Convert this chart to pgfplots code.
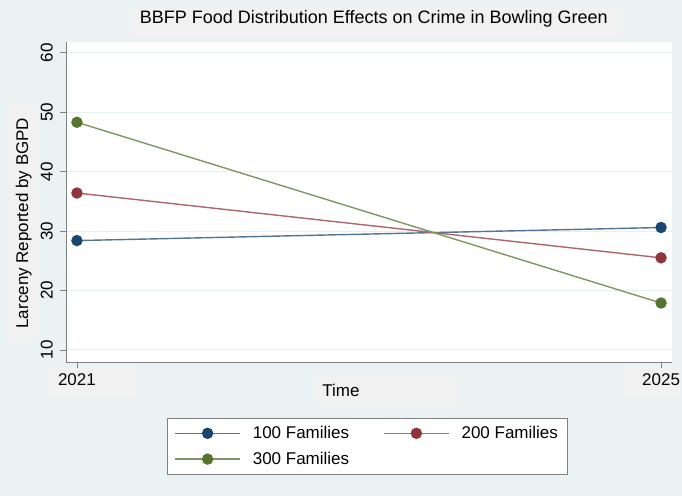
\documentclass[border=0pt]{standalone}
\usepackage{pgfplots}
\pgfplotsset{compat=1.18}
\usepackage{fontspec}
\setmainfont{Liberation Sans}

\definecolor{bgc}{HTML}{EAF2F3}
\definecolor{boxc}{HTML}{F1F1F1}
\definecolor{gridc}{HTML}{E6EFF1}
\definecolor{sNavy}{HTML}{1A476F}
\definecolor{sMaroon}{HTML}{90353B}
\definecolor{sGreen}{HTML}{55752F}

\newcommand{\lblfont}{\fontsize{17bp}{20bp}\selectfont}

\begin{document}
\begin{tikzpicture}
% page in pixel units of the reference (origin = axis south west)
\begin{scope}[x=1bp,y=-1bp,xshift=-66bp,yshift=362bp]
  \path[use as bounding box] (0,0) rectangle (682,496);
  \fill[bgc] (0,0) rectangle (682,496);
  \fill[boxc] (132,7) rectangle (622,37);   % title
  \fill[boxc] (7,102) rectangle (37,342);   % y label
  \fill[boxc] (47,367) rectangle (138,397); % 2021
  \fill[boxc] (623,367) rectangle (680,397);% 2025
  \fill[boxc] (315,376) rectangle (459,406);% Time
\end{scope}

\begin{axis}[
    at={(0,0)}, anchor=south west,
    scale only axis, width=606bp, height=320bp,
    xmin=2020.925, xmax=2025.075,
    ymin=7.98, ymax=61.8,
    xtick={2021,2025}, ytick={10,20,...,60},
    axis lines*=left,
    axis line style={draw=gray, line width=0.8bp},
    tick align=outside, major tick length=6bp,
    tick style={draw=gray, line width=0.8bp},
    ymajorgrids, grid style={gridc, line width=1bp},
    axis background/.style={fill=white},
    /pgf/number format/assume math mode=true,
    /pgf/number format/1000 sep={},
    ticklabel style={font=\lblfont, inner sep=0pt},
    xticklabel style={anchor=north},
    yticklabel style={rotate=90, anchor=south},
    xticklabel shift=5bp, yticklabel shift=7bp,
    title={BBFP Food Distribution Effects on Crime in Bowling Green},
    title style={at={(axis description cs:0.508,1.0406)}, anchor=base,
                 font=\fontsize{18bp}{21bp}\selectfont, inner sep=0pt},
    xlabel={Time},
    xlabel style={at={(axis description cs:0.4538,-0.109)}, anchor=base,
                  font=\lblfont, inner sep=0pt},
    ylabel={Larceny Reported by BGPD},
    ylabel style={at={(axis description cs:-0.0627,0.434)}, anchor=base,
                  rotate=0, font=\lblfont, inner sep=0pt},
    legend columns=2,
    legend cell align=left,
    legend image code/.code={\draw[mark repeat=2,mark phase=2,#1]
        plot coordinates {(0bp,0bp)(32.5bp,0bp)(65bp,0bp)};},
    legend style={at={(axis description cs:0.1667,-0.175)}, anchor=north west,
        draw=gray, fill=white, line width=0.8bp,
        inner xsep=7bp, inner ysep=6bp, row sep=8bp,
        font=\lblfont,
        /tikz/every odd column/.append style={column sep=10bp},
        /tikz/every even column/.append style={column sep=32bp}},
]
\addplot[color=sNavy!75!white, line width=1.4bp, mark=*, mark size=5bp,
         mark options={solid, fill=sNavy, draw=sNavy}]
    coordinates {(2021,28.4) (2025,30.6)};
\addlegendentry{100 Families}
\addplot[color=sMaroon!75!white, line width=1.4bp, mark=*, mark size=5bp,
         mark options={solid, fill=sMaroon, draw=sMaroon}]
    coordinates {(2021,36.4) (2025,25.5)};
\addlegendentry{200 Families}
\addplot[color=sGreen!75!white, line width=1.4bp, mark=*, mark size=5bp,
         mark options={solid, fill=sGreen, draw=sGreen}]
    coordinates {(2021,48.3) (2025,17.9)};
\addlegendentry{300 Families}
\end{axis}
\end{tikzpicture}
\end{document}
